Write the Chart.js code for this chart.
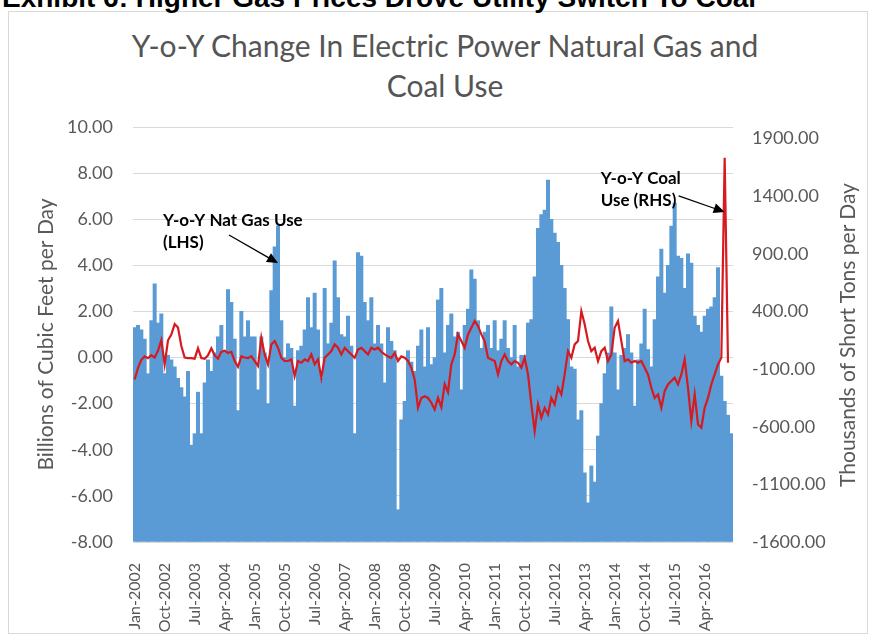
<!DOCTYPE html>
<html>
<head>
<meta charset="utf-8">
<script src="https://cdn.jsdelivr.net/npm/chart.js@4.4.1/dist/chart.umd.min.js"></script>
<style>
  html, body { margin: 0; padding: 0; background: #fff; }
  #wrap { position: relative; width: 872px; height: 638px; overflow: hidden; font-family: Lato, "Open Sans", sans-serif; }
  #frame { position: absolute; left: 8px; top: 11px; width: 858px; height: 621px; border: 1px solid #d9d9d9; }
  #exhibit { position: absolute; left: 2px; top: -16px; font: bold 28px "Liberation Sans", Arial, sans-serif; line-height: 28px; color: #000; white-space: nowrap; }
  #title { position: absolute; left: 9px; width: 872px; top: 25px; text-align: center; font-size: 30px; line-height: 40px; color: #555; }
  #rtitle { position: absolute; left: 647px; top: 322px; width: 400px; text-align: center; font-size: 21px; line-height: 26px; color: #595959; transform: rotate(-90deg); }
  canvas { position: absolute; left: 0; top: 0; }
</style>
</head>
<body>
<div id="wrap">
  <div id="frame"></div>
  <div id="exhibit">Exhibit 6: Higher Gas Prices Drove Utility Switch To Coal</div>
  <div id="title">Y-o-Y Change In Electric Power Natural Gas and<br>Coal Use</div>
  <canvas id="chart" width="872" height="638"></canvas>
  <div id="rtitle">Thousands of Short Tons per Day</div>
</div>
<script>
const monthNames = ['Jan', 'Feb', 'Mar', 'Apr', 'May', 'Jun', 'Jul', 'Aug', 'Sep', 'Oct', 'Nov', 'Dec'];
const years = [2002, 2003, 2004, 2005, 2006, 2007, 2008, 2009, 2010, 2011, 2012, 2013, 2014, 2015, 2016];
const months = years.flatMap(y => monthNames.map(m => `${m}-${y}`));

const tickLabels = ['Jan-2002', 'Oct-2002', 'Jul-2003', 'Apr-2004', 'Jan-2005', 'Oct-2005', 'Jul-2006',
    'Apr-2007', 'Jan-2008', 'Oct-2008', 'Jul-2009', 'Apr-2010', 'Jan-2011', 'Oct-2011', 'Jul-2012',
    'Apr-2013', 'Jan-2014', 'Oct-2014', 'Jul-2015', 'Apr-2016'];

// Y-o-Y nat gas use, Bcf/d (LHS)
const gasUse = [
    1.3, 1.4, 1.2, 0.8, -0.7, 1.6, 3.2, 1.5, 1.9, -0.7, 0.1, -0.1,
    -0.4, -0.9, -1.3, -1.7, -0.6, -3.8, -3.3, -1.5, -3.3, -1.1, -0.1, -0.6,
    0.2, 0.9, 1.4, 0.3, 2.95, 2.4, 0.8, -2.3, 2.0, 0.9, 1.6, 0.9,
    0.9, -1.4, 0.9, 0.2, -2.0, 2.9, 4.8, 5.7, 1.6, 0.0, 0.6, 0.4,
    -2.1, 0.3, 0.5, 1.2, 2.6, 1.3, 2.8, 1.2, -0.9, 3.0, 0.6, 1.5,
    4.2, 2.6, 1.0, 0.9, 1.8, 0.5, -3.3, 4.55, 4.4, 2.4, 1.6, 2.6,
    0.6, 1.4, 0.6, -1.1, 1.3, 0.7, 0.3, -6.6, -2.7, -1.9, 0.3, -0.2,
    -0.6, 0.5, 1.2, -0.4, 1.3, -0.3, 0.0, 2.5, 3.0, 0.2, 1.4, 1.9,
    0.9, 1.1, -1.4, 1.4, 2.1, 3.8, 3.4, 1.6, 0.4, 1.1, 1.4, 0.4,
    1.6, 0.3, 0.8, 1.6, 0.4, 0.0, 1.4, -0.4, 0.1, 0.1, 1.5, 1.65,
    3.5, 5.6, 6.2, 6.4, 7.7, 6.0, 5.4, 5.0, 4.0, 3.0, 1.65, -0.4,
    -0.5, -2.7, -2.3, -5.0, -6.3, -4.7, -5.4, -3.4, -2.0, -0.7, 0.2, 2.2,
    0.2, -1.4, 0.1, 0.4, 1.0, 0.2, -2.1, -0.1, 0.6, 2.1, 0.35, -0.4,
    1.65, 3.5, 4.7, 2.8, 4.0, 5.7, 6.7, 4.4, 4.3, 3.0, 4.5, 4.1,
    1.8, 1.4, 1.1, 1.8, 2.1, 2.2, 2.6, 3.9, -0.8, -1.9, -2.5, -3.3
];

// Y-o-Y coal use, thousand short tons/d (RHS)
const coalUse = [
    -190, -90, -20, 10, -5, 20, 0, 60, 150, -60, 150, 200,
    290, 260, 100, 0, -5, -5, -10, 80, -5, -10, 20, 80,
    20, -10, 50, 60, 40, 50, -30, -80, 10, 0, -5, 12,
    -30, -73, 172, 27, -59, 114, 143, 85, -2, -30, -30, -16,
    -160, -30, -45, -16, -30, 27, -59, -16, -175, -2, 27, 56,
    114, 85, 27, 85, 56, 27, -2, 70, 85, 56, 27, 85,
    70, 85, 50, 27, 10, -2, 40, -30, 10, -2, -30, -88,
    -190, -436, -350, -335, -350, -393, -451, -350, -430, -230, -300, -60,
    27, 201, 143, 85, 201, 259, 317, 274, 201, 143, -2, -16,
    -30, -146, -30, 27, -30, -59, -30, -45, -88, -2, -146, -407,
    -638, -407, -522, -436, -494, -350, -407, -262, -320, -146, 56, -2,
    114, 143, 403, 288, 143, 56, 85, -30, 56, 85, -30, 27,
    259, 317, 143, -30, -16, -45, -30, -45, -30, -88, -146, -262,
    -350, -320, -436, -291, -233, -204, -175, -233, -146, -16, -262, -551,
    -320, -580, -609, -436, -350, -233, -146, -59, -2, 1734, -45, null
];

const gasTicks = [-8, -6, -4, -2, 0, 2, 4, 6, 8, 10];
const coalTicks = [-1600, -1100, -600, -100, 400, 900, 1400, 1900];

const notes = [
    { axis: 'y', index: 43, value: 4.1, lines: ['Y-o-Y Nat Gas Use', '(LHS)'], tail: [-49, -28], text: [-115, -43] },
    { axis: 'y2', index: 177, value: 1263, lines: ['Y-o-Y Coal', 'Use (RHS)'], tail: [-46, -16], text: [-124, -33] }
];

const gray = '#595959';
const tickFont = { family: 'Lato', size: 18 };

const notesPlugin = {
    id: 'notes',
    afterDatasetsDraw(chart) {
        const { ctx, scales } = chart;
        ctx.save();
        notes.forEach(n => {
            const tx = scales.x.getPixelForValue(n.index);
            const ty = scales[n.axis].getPixelForValue(n.value);
            const sx = tx + n.tail[0], sy = ty + n.tail[1];
            const ang = Math.atan2(ty - sy, tx - sx);

            ctx.strokeStyle = '#000';
            ctx.fillStyle = '#000';
            ctx.lineWidth = 1.3;
            ctx.beginPath();
            ctx.moveTo(sx, sy);
            ctx.lineTo(tx - 9 * Math.cos(ang), ty - 9 * Math.sin(ang));
            ctx.stroke();

            ctx.beginPath();
            ctx.moveTo(tx, ty);
            ctx.lineTo(tx - 11 * Math.cos(ang) + 5 * Math.sin(ang), ty - 11 * Math.sin(ang) - 5 * Math.cos(ang));
            ctx.lineTo(tx - 11 * Math.cos(ang) - 5 * Math.sin(ang), ty - 11 * Math.sin(ang) + 5 * Math.cos(ang));
            ctx.closePath();
            ctx.fill();

            ctx.font = 'bold 17px Lato';
            ctx.textAlign = 'left';
            ctx.textBaseline = 'middle';
            n.lines.forEach((t, k) => {
                ctx.fillText(t, tx + n.text[0], ty + n.text[1] + k * 22);
            });
        });
        ctx.restore();
    }
};

new Chart(document.getElementById('chart'), {
    type: 'bar',
    data: {
        labels: months,
        datasets: [
            {
                type: 'line',
                label: 'Y-o-Y Coal Use (RHS)',
                data: coalUse,
                yAxisID: 'y2',
                borderColor: '#d71920',
                borderWidth: 2.2,
                pointRadius: 0,
                tension: 0,
                order: 0
            },
            {
                label: 'Y-o-Y Nat Gas Use (LHS)',
                data: gasUse,
                yAxisID: 'y',
                base: -8,
                backgroundColor: '#5b9bd5',
                borderWidth: 0,
                barPercentage: 1,
                categoryPercentage: 1,
                order: 1
            }
        ]
    },
    options: {
        responsive: false,
        animation: false,
        devicePixelRatio: 1,
        layout: { padding: { left: 30, right: 0, top: 127, bottom: 0 } },
        plugins: {
            legend: { display: false },
            tooltip: { enabled: false }
        },
        scales: {
            x: {
                grid: { display: false },
                border: { display: false },
                ticks: {
                    autoSkip: false,
                    minRotation: 90,
                    maxRotation: 90,
                    padding: 13,
                    color: gray,
                    font: { family: 'Lato', size: 16 },
                    callback: (v, i) => tickLabels.includes(months[i]) ? months[i] : ''
                },
                afterFit: (s) => { s.height = 96; }
            },
            y: {
                position: 'left',
                min: -8,
                max: 10,
                grid: { color: '#d9d9d9', drawTicks: false },
                border: { display: false },
                ticks: { padding: 20, color: gray, font: tickFont, callback: v => v.toFixed(2) },
                afterBuildTicks: (s) => { s.ticks = gasTicks.map(v => ({ value: v })); },
                title: {
                    display: true,
                    text: 'Billions of Cubic Feet per Day',
                    color: gray,
                    font: { family: 'Lato', size: 21 },
                    padding: { top: 4, bottom: 0 }
                },
                afterFit: (s) => { s.width = 103; }
            },
            y2: {
                position: 'right',
                min: -1600,
                max: 2000,
                grid: { display: false, drawTicks: false },
                border: { display: false },
                ticks: { padding: 19, color: gray, font: tickFont, callback: v => v.toFixed(2) },
                afterBuildTicks: (s) => { s.ticks = coalTicks.map(v => ({ value: v })); },
                afterFit: (s) => { s.width = 139; }
            }
        }
    },
    plugins: [notesPlugin]
});
</script>
</body>
</html>
